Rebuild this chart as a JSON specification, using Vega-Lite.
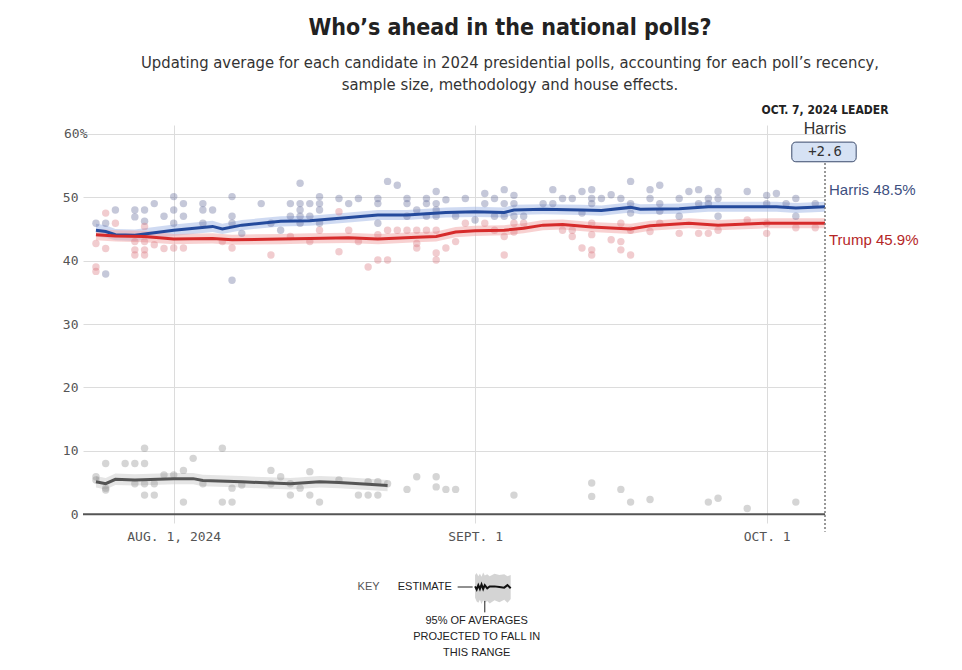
{
 "$schema": "https://vega.github.io/schema/vega-lite/v6.json",
 "width": 742,
 "height": 398,
 "autosize": {"type": "none"},
 "padding": {"left": 83, "top": 125, "right": 137, "bottom": 147},
 "background": "white",
 "config": {
  "view": {"stroke": null},
  "axis": {"domain": false, "ticks": false, "labelFont": "DejaVu Sans Mono", "labelFontSize": 13, "labelColor": "#555555", "gridColor": "#dcdcdc", "gridWidth": 1, "title": null}
 },
 "title": {
  "text": "Who’s ahead in the national polls?",
  "subtitle": ["Updating average for each candidate in 2024 presidential polls, accounting for each poll’s recency,", "sample size, methodology and house effects."],
  "anchor": "middle",
  "frame": "group",
  "dx": 56,
  "offset": 10,
  "font": "Liberation Sans Narrow, DejaVu Sans Condensed, sans-serif",
  "fontSize": 23,
  "fontWeight": "bold",
  "color": "#222222",
  "subtitleFont": "Liberation Sans Narrow, DejaVu Sans Condensed, sans-serif",
  "subtitleFontSize": 16.5,
  "subtitleColor": "#333333",
  "subtitleLineHeight": 22,
  "subtitlePadding": 15
 },
 "datasets": {
  "avg": [
   {"d":"2024-07-24T00:00","c":"Harris","v":44.8,"lo":43.8,"hi":45.8},
   {"d":"2024-07-25T00:00","c":"Harris","v":44.6,"lo":43.6,"hi":45.6},
   {"d":"2024-07-26T00:00","c":"Harris","v":44.1,"lo":43.2,"hi":45.0},
   {"d":"2024-07-28T00:00","c":"Harris","v":44.0,"lo":43.1,"hi":44.9},
   {"d":"2024-07-29T00:00","c":"Harris","v":44.2,"lo":43.3,"hi":45.1},
   {"d":"2024-08-01T00:00","c":"Harris","v":44.8,"lo":43.9,"hi":45.7},
   {"d":"2024-08-05T00:00","c":"Harris","v":45.4,"lo":44.5,"hi":46.3},
   {"d":"2024-08-06T00:00","c":"Harris","v":45.0,"lo":44.2,"hi":45.8},
   {"d":"2024-08-08T00:00","c":"Harris","v":45.6,"lo":44.8,"hi":46.4},
   {"d":"2024-08-12T00:00","c":"Harris","v":46.2,"lo":45.4,"hi":47.0},
   {"d":"2024-08-15T00:00","c":"Harris","v":46.3,"lo":45.5,"hi":47.1},
   {"d":"2024-08-19T00:00","c":"Harris","v":46.8,"lo":46.0,"hi":47.6},
   {"d":"2024-08-22T00:00","c":"Harris","v":47.2,"lo":46.4,"hi":48.0},
   {"d":"2024-08-25T00:00","c":"Harris","v":47.2,"lo":46.4,"hi":48.0},
   {"d":"2024-08-29T00:00","c":"Harris","v":47.6,"lo":46.8,"hi":48.4},
   {"d":"2024-09-01T00:00","c":"Harris","v":47.7,"lo":46.9,"hi":48.5},
   {"d":"2024-09-04T00:00","c":"Harris","v":47.6,"lo":46.8,"hi":48.4},
   {"d":"2024-09-05T00:00","c":"Harris","v":48.0,"lo":47.2,"hi":48.8},
   {"d":"2024-09-08T00:00","c":"Harris","v":48.1,"lo":47.3,"hi":48.9},
   {"d":"2024-09-12T00:00","c":"Harris","v":48.0,"lo":47.2,"hi":48.8},
   {"d":"2024-09-14T00:00","c":"Harris","v":47.9,"lo":47.1,"hi":48.7},
   {"d":"2024-09-17T00:00","c":"Harris","v":48.4,"lo":47.6,"hi":49.2},
   {"d":"2024-09-18T00:00","c":"Harris","v":48.1,"lo":47.3,"hi":48.9},
   {"d":"2024-09-22T00:00","c":"Harris","v":48.2,"lo":47.4,"hi":49.0},
   {"d":"2024-09-25T00:00","c":"Harris","v":48.5,"lo":47.7,"hi":49.3},
   {"d":"2024-09-29T00:00","c":"Harris","v":48.5,"lo":47.7,"hi":49.3},
   {"d":"2024-10-02T00:00","c":"Harris","v":48.5,"lo":47.7,"hi":49.3},
   {"d":"2024-10-04T00:00","c":"Harris","v":48.3,"lo":47.5,"hi":49.1},
   {"d":"2024-10-07T00:00","c":"Harris","v":48.5,"lo":47.7,"hi":49.3},
   {"d":"2024-07-24T00:00","c":"Trump","v":44.1,"lo":43.2,"hi":45.0},
   {"d":"2024-07-26T00:00","c":"Trump","v":43.9,"lo":43.0,"hi":44.8},
   {"d":"2024-07-29T00:00","c":"Trump","v":43.8,"lo":42.9,"hi":44.7},
   {"d":"2024-08-01T00:00","c":"Trump","v":43.4,"lo":42.6,"hi":44.2},
   {"d":"2024-08-05T00:00","c":"Trump","v":43.5,"lo":42.7,"hi":44.3},
   {"d":"2024-08-07T00:00","c":"Trump","v":43.3,"lo":42.5,"hi":44.1},
   {"d":"2024-08-12T00:00","c":"Trump","v":43.4,"lo":42.6,"hi":44.2},
   {"d":"2024-08-15T00:00","c":"Trump","v":43.5,"lo":42.7,"hi":44.3},
   {"d":"2024-08-19T00:00","c":"Trump","v":43.6,"lo":42.8,"hi":44.4},
   {"d":"2024-08-22T00:00","c":"Trump","v":43.4,"lo":42.6,"hi":44.2},
   {"d":"2024-08-26T00:00","c":"Trump","v":43.7,"lo":42.9,"hi":44.5},
   {"d":"2024-08-28T00:00","c":"Trump","v":43.8,"lo":43.0,"hi":44.6},
   {"d":"2024-08-30T00:00","c":"Trump","v":44.5,"lo":43.7,"hi":45.3},
   {"d":"2024-09-01T00:00","c":"Trump","v":44.7,"lo":43.9,"hi":45.5},
   {"d":"2024-09-04T00:00","c":"Trump","v":44.8,"lo":44.0,"hi":45.6},
   {"d":"2024-09-06T00:00","c":"Trump","v":45.1,"lo":44.3,"hi":45.9},
   {"d":"2024-09-08T00:00","c":"Trump","v":45.6,"lo":44.8,"hi":46.4},
   {"d":"2024-09-10T00:00","c":"Trump","v":45.7,"lo":44.9,"hi":46.5},
   {"d":"2024-09-13T00:00","c":"Trump","v":45.3,"lo":44.5,"hi":46.1},
   {"d":"2024-09-17T00:00","c":"Trump","v":45.0,"lo":44.2,"hi":45.8},
   {"d":"2024-09-19T00:00","c":"Trump","v":45.5,"lo":44.7,"hi":46.3},
   {"d":"2024-09-23T00:00","c":"Trump","v":45.9,"lo":45.1,"hi":46.7},
   {"d":"2024-09-26T00:00","c":"Trump","v":45.6,"lo":44.8,"hi":46.4},
   {"d":"2024-10-01T00:00","c":"Trump","v":45.9,"lo":45.1,"hi":46.7},
   {"d":"2024-10-07T00:00","c":"Trump","v":45.9,"lo":45.1,"hi":46.7},
   {"d":"2024-07-24T00:00","c":"Other","v":5.1,"lo":4.2,"hi":6.0},
   {"d":"2024-07-25T00:00","c":"Other","v":4.8,"lo":3.9,"hi":5.7},
   {"d":"2024-07-26T00:00","c":"Other","v":5.5,"lo":4.6,"hi":6.4},
   {"d":"2024-07-28T00:00","c":"Other","v":5.4,"lo":4.5,"hi":6.3},
   {"d":"2024-08-01T00:00","c":"Other","v":5.6,"lo":4.7,"hi":6.5},
   {"d":"2024-08-03T00:00","c":"Other","v":5.6,"lo":4.7,"hi":6.5},
   {"d":"2024-08-04T00:00","c":"Other","v":5.3,"lo":4.4,"hi":6.2},
   {"d":"2024-08-08T00:00","c":"Other","v":5.1,"lo":4.2,"hi":6.0},
   {"d":"2024-08-11T00:00","c":"Other","v":4.9,"lo":4.0,"hi":5.8},
   {"d":"2024-08-13T00:00","c":"Other","v":4.8,"lo":3.9,"hi":5.7},
   {"d":"2024-08-16T00:00","c":"Other","v":5.1,"lo":4.2,"hi":6.0},
   {"d":"2024-08-18T00:00","c":"Other","v":5.0,"lo":4.1,"hi":5.9},
   {"d":"2024-08-21T00:00","c":"Other","v":4.7,"lo":3.8,"hi":5.6},
   {"d":"2024-08-23T00:00","c":"Other","v":4.5,"lo":3.6,"hi":5.4}
  ],
  "polls": [
   {"d":"2024-07-24T00:00","c":"Harris","v":45.9},
   {"d":"2024-07-25T00:00","c":"Harris","v":45.9},
   {"d":"2024-07-25T00:00","c":"Harris","v":37.9},
   {"d":"2024-07-26T00:00","c":"Harris","v":48.0},
   {"d":"2024-07-28T00:00","c":"Harris","v":48.0},
   {"d":"2024-07-28T00:00","c":"Harris","v":46.9},
   {"d":"2024-07-29T00:00","c":"Harris","v":48.0},
   {"d":"2024-07-29T00:00","c":"Harris","v":46.2},
   {"d":"2024-07-30T00:00","c":"Harris","v":49.0},
   {"d":"2024-07-31T00:00","c":"Harris","v":47.0},
   {"d":"2024-08-01T00:00","c":"Harris","v":50.1},
   {"d":"2024-08-01T00:00","c":"Harris","v":48.0},
   {"d":"2024-08-01T00:00","c":"Harris","v":45.9},
   {"d":"2024-08-02T00:00","c":"Harris","v":49.0},
   {"d":"2024-08-02T00:00","c":"Harris","v":47.0},
   {"d":"2024-08-04T00:00","c":"Harris","v":49.0},
   {"d":"2024-08-04T00:00","c":"Harris","v":48.0},
   {"d":"2024-08-04T00:00","c":"Harris","v":45.9},
   {"d":"2024-08-05T00:00","c":"Harris","v":48.0},
   {"d":"2024-08-07T00:00","c":"Harris","v":50.1},
   {"d":"2024-08-07T00:00","c":"Harris","v":47.0},
   {"d":"2024-08-07T00:00","c":"Harris","v":45.9},
   {"d":"2024-08-07T00:00","c":"Harris","v":36.9},
   {"d":"2024-08-08T00:00","c":"Harris","v":44.3},
   {"d":"2024-08-10T00:00","c":"Harris","v":49.0},
   {"d":"2024-08-11T00:00","c":"Harris","v":45.9},
   {"d":"2024-08-12T00:00","c":"Harris","v":44.8},
   {"d":"2024-08-13T00:00","c":"Harris","v":49.0},
   {"d":"2024-08-13T00:00","c":"Harris","v":47.0},
   {"d":"2024-08-14T00:00","c":"Harris","v":52.2},
   {"d":"2024-08-14T00:00","c":"Harris","v":49.0},
   {"d":"2024-08-14T00:00","c":"Harris","v":48.0},
   {"d":"2024-08-14T00:00","c":"Harris","v":47.0},
   {"d":"2024-08-14T00:00","c":"Harris","v":45.9},
   {"d":"2024-08-15T00:00","c":"Harris","v":49.0},
   {"d":"2024-08-15T00:00","c":"Harris","v":47.0},
   {"d":"2024-08-16T00:00","c":"Harris","v":50.1},
   {"d":"2024-08-16T00:00","c":"Harris","v":49.0},
   {"d":"2024-08-16T00:00","c":"Harris","v":48.0},
   {"d":"2024-08-16T00:00","c":"Harris","v":45.9},
   {"d":"2024-08-18T00:00","c":"Harris","v":49.8},
   {"d":"2024-08-19T00:00","c":"Harris","v":49.0},
   {"d":"2024-08-20T00:00","c":"Harris","v":49.8},
   {"d":"2024-08-22T00:00","c":"Harris","v":49.8},
   {"d":"2024-08-22T00:00","c":"Harris","v":49.0},
   {"d":"2024-08-22T00:00","c":"Harris","v":45.9},
   {"d":"2024-08-23T00:00","c":"Harris","v":52.5},
   {"d":"2024-08-24T00:00","c":"Harris","v":51.9},
   {"d":"2024-08-25T00:00","c":"Harris","v":49.8},
   {"d":"2024-08-25T00:00","c":"Harris","v":49.0},
   {"d":"2024-08-25T00:00","c":"Harris","v":47.0},
   {"d":"2024-08-26T00:00","c":"Harris","v":48.0},
   {"d":"2024-08-27T00:00","c":"Harris","v":49.8},
   {"d":"2024-08-27T00:00","c":"Harris","v":49.0},
   {"d":"2024-08-27T00:00","c":"Harris","v":47.0},
   {"d":"2024-08-28T00:00","c":"Harris","v":50.9},
   {"d":"2024-08-28T00:00","c":"Harris","v":49.0},
   {"d":"2024-08-28T00:00","c":"Harris","v":48.0},
   {"d":"2024-08-28T00:00","c":"Harris","v":47.0},
   {"d":"2024-08-29T00:00","c":"Harris","v":49.6},
   {"d":"2024-08-30T00:00","c":"Harris","v":47.0},
   {"d":"2024-08-31T00:00","c":"Harris","v":49.8},
   {"d":"2024-09-01T00:00","c":"Harris","v":46.4},
   {"d":"2024-09-02T00:00","c":"Harris","v":50.6},
   {"d":"2024-09-02T00:00","c":"Harris","v":49.0},
   {"d":"2024-09-03T00:00","c":"Harris","v":49.8},
   {"d":"2024-09-03T00:00","c":"Harris","v":47.0},
   {"d":"2024-09-04T00:00","c":"Harris","v":51.2},
   {"d":"2024-09-04T00:00","c":"Harris","v":49.0},
   {"d":"2024-09-04T00:00","c":"Harris","v":47.0},
   {"d":"2024-09-05T00:00","c":"Harris","v":50.3},
   {"d":"2024-09-05T00:00","c":"Harris","v":49.0},
   {"d":"2024-09-05T00:00","c":"Harris","v":47.0},
   {"d":"2024-09-06T00:00","c":"Harris","v":47.0},
   {"d":"2024-09-08T00:00","c":"Harris","v":49.0},
   {"d":"2024-09-09T00:00","c":"Harris","v":51.2},
   {"d":"2024-09-09T00:00","c":"Harris","v":49.0},
   {"d":"2024-09-10T00:00","c":"Harris","v":49.8},
   {"d":"2024-09-11T00:00","c":"Harris","v":49.8},
   {"d":"2024-09-12T00:00","c":"Harris","v":50.9},
   {"d":"2024-09-12T00:00","c":"Harris","v":47.5},
   {"d":"2024-09-13T00:00","c":"Harris","v":51.2},
   {"d":"2024-09-13T00:00","c":"Harris","v":49.8},
   {"d":"2024-09-13T00:00","c":"Harris","v":49.0},
   {"d":"2024-09-14T00:00","c":"Harris","v":49.8},
   {"d":"2024-09-15T00:00","c":"Harris","v":50.4},
   {"d":"2024-09-16T00:00","c":"Harris","v":49.8},
   {"d":"2024-09-17T00:00","c":"Harris","v":52.5},
   {"d":"2024-09-17T00:00","c":"Harris","v":49.0},
   {"d":"2024-09-17T00:00","c":"Harris","v":47.5},
   {"d":"2024-09-19T00:00","c":"Harris","v":51.2},
   {"d":"2024-09-19T00:00","c":"Harris","v":49.8},
   {"d":"2024-09-20T00:00","c":"Harris","v":51.9},
   {"d":"2024-09-20T00:00","c":"Harris","v":49.0},
   {"d":"2024-09-20T00:00","c":"Harris","v":47.8},
   {"d":"2024-09-22T00:00","c":"Harris","v":49.8},
   {"d":"2024-09-22T00:00","c":"Harris","v":47.0},
   {"d":"2024-09-23T00:00","c":"Harris","v":50.9},
   {"d":"2024-09-24T00:00","c":"Harris","v":51.2},
   {"d":"2024-09-24T00:00","c":"Harris","v":49.0},
   {"d":"2024-09-25T00:00","c":"Harris","v":49.8},
   {"d":"2024-09-25T00:00","c":"Harris","v":49.0},
   {"d":"2024-09-26T00:00","c":"Harris","v":50.9},
   {"d":"2024-09-26T00:00","c":"Harris","v":49.8},
   {"d":"2024-09-26T00:00","c":"Harris","v":47.0},
   {"d":"2024-09-29T00:00","c":"Harris","v":50.9},
   {"d":"2024-10-01T00:00","c":"Harris","v":50.3},
   {"d":"2024-10-01T00:00","c":"Harris","v":49.0},
   {"d":"2024-10-02T00:00","c":"Harris","v":50.6},
   {"d":"2024-10-03T00:00","c":"Harris","v":49.0},
   {"d":"2024-10-04T00:00","c":"Harris","v":49.8},
   {"d":"2024-10-04T00:00","c":"Harris","v":47.0},
   {"d":"2024-10-06T00:00","c":"Harris","v":49.0},
   {"d":"2024-07-24T00:00","c":"Trump","v":42.7},
   {"d":"2024-07-24T00:00","c":"Trump","v":39.0},
   {"d":"2024-07-24T00:00","c":"Trump","v":38.3},
   {"d":"2024-07-25T00:00","c":"Trump","v":47.5},
   {"d":"2024-07-25T00:00","c":"Trump","v":41.9},
   {"d":"2024-07-26T00:00","c":"Trump","v":45.9},
   {"d":"2024-07-28T00:00","c":"Trump","v":43.0},
   {"d":"2024-07-28T00:00","c":"Trump","v":41.7},
   {"d":"2024-07-28T00:00","c":"Trump","v":40.9},
   {"d":"2024-07-29T00:00","c":"Trump","v":45.4},
   {"d":"2024-07-29T00:00","c":"Trump","v":43.0},
   {"d":"2024-07-29T00:00","c":"Trump","v":41.7},
   {"d":"2024-07-29T00:00","c":"Trump","v":40.9},
   {"d":"2024-07-30T00:00","c":"Trump","v":42.5},
   {"d":"2024-07-31T00:00","c":"Trump","v":41.9},
   {"d":"2024-08-01T00:00","c":"Trump","v":42.0},
   {"d":"2024-08-02T00:00","c":"Trump","v":42.0},
   {"d":"2024-08-06T00:00","c":"Trump","v":43.0},
   {"d":"2024-08-07T00:00","c":"Trump","v":42.0},
   {"d":"2024-08-11T00:00","c":"Trump","v":40.9},
   {"d":"2024-08-13T00:00","c":"Trump","v":43.8},
   {"d":"2024-08-15T00:00","c":"Trump","v":43.0},
   {"d":"2024-08-16T00:00","c":"Trump","v":44.8},
   {"d":"2024-08-18T00:00","c":"Trump","v":47.7},
   {"d":"2024-08-18T00:00","c":"Trump","v":41.4},
   {"d":"2024-08-19T00:00","c":"Trump","v":44.8},
   {"d":"2024-08-20T00:00","c":"Trump","v":43.0},
   {"d":"2024-08-21T00:00","c":"Trump","v":39.0},
   {"d":"2024-08-22T00:00","c":"Trump","v":44.1},
   {"d":"2024-08-22T00:00","c":"Trump","v":40.1},
   {"d":"2024-08-23T00:00","c":"Trump","v":44.8},
   {"d":"2024-08-23T00:00","c":"Trump","v":40.1},
   {"d":"2024-08-24T00:00","c":"Trump","v":44.8},
   {"d":"2024-08-25T00:00","c":"Trump","v":44.8},
   {"d":"2024-08-26T00:00","c":"Trump","v":44.8},
   {"d":"2024-08-26T00:00","c":"Trump","v":42.7},
   {"d":"2024-08-26T00:00","c":"Trump","v":42.0},
   {"d":"2024-08-27T00:00","c":"Trump","v":44.8},
   {"d":"2024-08-28T00:00","c":"Trump","v":44.8},
   {"d":"2024-08-28T00:00","c":"Trump","v":41.2},
   {"d":"2024-08-28T00:00","c":"Trump","v":40.1},
   {"d":"2024-08-29T00:00","c":"Trump","v":42.0},
   {"d":"2024-08-30T00:00","c":"Trump","v":43.0},
   {"d":"2024-08-31T00:00","c":"Trump","v":45.9},
   {"d":"2024-09-02T00:00","c":"Trump","v":45.9},
   {"d":"2024-09-03T00:00","c":"Trump","v":44.8},
   {"d":"2024-09-04T00:00","c":"Trump","v":43.8},
   {"d":"2024-09-04T00:00","c":"Trump","v":40.9},
   {"d":"2024-09-05T00:00","c":"Trump","v":45.9},
   {"d":"2024-09-05T00:00","c":"Trump","v":44.5},
   {"d":"2024-09-06T00:00","c":"Trump","v":45.9},
   {"d":"2024-09-10T00:00","c":"Trump","v":44.8},
   {"d":"2024-09-11T00:00","c":"Trump","v":44.8},
   {"d":"2024-09-11T00:00","c":"Trump","v":43.8},
   {"d":"2024-09-12T00:00","c":"Trump","v":42.0},
   {"d":"2024-09-13T00:00","c":"Trump","v":45.9},
   {"d":"2024-09-13T00:00","c":"Trump","v":44.1},
   {"d":"2024-09-13T00:00","c":"Trump","v":41.7},
   {"d":"2024-09-13T00:00","c":"Trump","v":40.9},
   {"d":"2024-09-15T00:00","c":"Trump","v":43.3},
   {"d":"2024-09-16T00:00","c":"Trump","v":45.9},
   {"d":"2024-09-16T00:00","c":"Trump","v":43.0},
   {"d":"2024-09-16T00:00","c":"Trump","v":41.7},
   {"d":"2024-09-17T00:00","c":"Trump","v":44.8},
   {"d":"2024-09-17T00:00","c":"Trump","v":40.9},
   {"d":"2024-09-19T00:00","c":"Trump","v":44.6},
   {"d":"2024-09-20T00:00","c":"Trump","v":45.9},
   {"d":"2024-09-22T00:00","c":"Trump","v":44.3},
   {"d":"2024-09-24T00:00","c":"Trump","v":44.3},
   {"d":"2024-09-25T00:00","c":"Trump","v":44.3},
   {"d":"2024-09-26T00:00","c":"Trump","v":44.8},
   {"d":"2024-09-29T00:00","c":"Trump","v":46.4},
   {"d":"2024-10-01T00:00","c":"Trump","v":45.9},
   {"d":"2024-10-01T00:00","c":"Trump","v":44.3},
   {"d":"2024-10-04T00:00","c":"Trump","v":45.2},
   {"d":"2024-10-06T00:00","c":"Trump","v":45.2},
   {"d":"2024-07-24T00:00","c":"Other","v":5.9},
   {"d":"2024-07-24T00:00","c":"Other","v":5.4},
   {"d":"2024-07-25T00:00","c":"Other","v":8.0},
   {"d":"2024-07-25T00:00","c":"Other","v":4.1},
   {"d":"2024-07-25T00:00","c":"Other","v":3.8},
   {"d":"2024-07-27T00:00","c":"Other","v":8.0},
   {"d":"2024-07-28T00:00","c":"Other","v":8.0},
   {"d":"2024-07-28T00:00","c":"Other","v":4.8},
   {"d":"2024-07-29T00:00","c":"Other","v":8.0},
   {"d":"2024-07-29T00:00","c":"Other","v":10.4},
   {"d":"2024-07-29T00:00","c":"Other","v":4.8},
   {"d":"2024-07-29T00:00","c":"Other","v":3.0},
   {"d":"2024-07-30T00:00","c":"Other","v":4.8},
   {"d":"2024-07-30T00:00","c":"Other","v":3.0},
   {"d":"2024-07-31T00:00","c":"Other","v":6.2},
   {"d":"2024-08-01T00:00","c":"Other","v":6.2},
   {"d":"2024-08-02T00:00","c":"Other","v":6.9},
   {"d":"2024-08-02T00:00","c":"Other","v":1.9},
   {"d":"2024-08-03T00:00","c":"Other","v":8.8},
   {"d":"2024-08-04T00:00","c":"Other","v":4.8},
   {"d":"2024-08-06T00:00","c":"Other","v":10.4},
   {"d":"2024-08-06T00:00","c":"Other","v":1.9},
   {"d":"2024-08-07T00:00","c":"Other","v":1.9},
   {"d":"2024-08-07T00:00","c":"Other","v":4.1},
   {"d":"2024-08-08T00:00","c":"Other","v":4.6},
   {"d":"2024-08-11T00:00","c":"Other","v":6.9},
   {"d":"2024-08-11T00:00","c":"Other","v":4.8},
   {"d":"2024-08-12T00:00","c":"Other","v":5.9},
   {"d":"2024-08-13T00:00","c":"Other","v":4.8},
   {"d":"2024-08-13T00:00","c":"Other","v":3.0},
   {"d":"2024-08-14T00:00","c":"Other","v":4.1},
   {"d":"2024-08-15T00:00","c":"Other","v":6.7},
   {"d":"2024-08-15T00:00","c":"Other","v":3.0},
   {"d":"2024-08-16T00:00","c":"Other","v":1.9},
   {"d":"2024-08-18T00:00","c":"Other","v":5.4},
   {"d":"2024-08-20T00:00","c":"Other","v":3.0},
   {"d":"2024-08-21T00:00","c":"Other","v":3.0},
   {"d":"2024-08-21T00:00","c":"Other","v":5.1},
   {"d":"2024-08-22T00:00","c":"Other","v":3.0},
   {"d":"2024-08-22T00:00","c":"Other","v":5.1},
   {"d":"2024-08-23T00:00","c":"Other","v":4.8},
   {"d":"2024-08-25T00:00","c":"Other","v":3.9},
   {"d":"2024-08-26T00:00","c":"Other","v":5.9},
   {"d":"2024-08-28T00:00","c":"Other","v":5.9},
   {"d":"2024-08-28T00:00","c":"Other","v":4.3},
   {"d":"2024-08-29T00:00","c":"Other","v":3.9},
   {"d":"2024-08-30T00:00","c":"Other","v":3.9},
   {"d":"2024-09-05T00:00","c":"Other","v":3.0},
   {"d":"2024-09-13T00:00","c":"Other","v":4.9},
   {"d":"2024-09-13T00:00","c":"Other","v":2.8},
   {"d":"2024-09-16T00:00","c":"Other","v":3.9},
   {"d":"2024-09-17T00:00","c":"Other","v":1.9},
   {"d":"2024-09-19T00:00","c":"Other","v":2.3},
   {"d":"2024-09-25T00:00","c":"Other","v":1.9},
   {"d":"2024-09-26T00:00","c":"Other","v":2.5},
   {"d":"2024-09-29T00:00","c":"Other","v":0.9},
   {"d":"2024-10-04T00:00","c":"Other","v":1.9}
  ],
  "key": [
   {"t":"2024-09-01T00:00","v":-11.4,"lo":-13.2,"hi":-9.6},
   {"t":"2024-09-01T04:00","v":-11.9,"lo":-13.8,"hi":-9.3},
   {"t":"2024-09-01T08:00","v":-11.2,"lo":-14.0,"hi":-9.8},
   {"t":"2024-09-01T12:00","v":-11.8,"lo":-13.5,"hi":-9.4},
   {"t":"2024-09-01T16:00","v":-11.1,"lo":-14.2,"hi":-9.9},
   {"t":"2024-09-01T20:00","v":-11.8,"lo":-13.6,"hi":-9.2},
   {"t":"2024-09-02T00:00","v":-11.2,"lo":-14.0,"hi":-9.7},
   {"t":"2024-09-02T06:00","v":-11.7,"lo":-13.7,"hi":-9.5},
   {"t":"2024-09-02T12:00","v":-11.4,"lo":-14.1,"hi":-9.8},
   {"t":"2024-09-03T00:00","v":-11.4,"lo":-13.6,"hi":-9.4},
   {"t":"2024-09-03T12:00","v":-11.5,"lo":-13.9,"hi":-9.6},
   {"t":"2024-09-04T00:00","v":-11.6,"lo":-13.5,"hi":-9.5},
   {"t":"2024-09-04T08:00","v":-11.2,"lo":-14.0,"hi":-9.8},
   {"t":"2024-09-04T16:00","v":-11.7,"lo":-13.4,"hi":-9.6}
  ]
 },
 "resolve": {"scale": {"color": "independent"}},
 "layer": [
  {
   "data": {"name": "avg"},
   "mark": {"type": "area", "opacity": 0.55},
   "encoding": {
    "x": {"field": "d", "type": "temporal", "title": null,
     "scale": {"domain": [{"year": 2024, "month": 7, "date": 22, "hours": 16}, {"year": 2024, "month": 10, "date": 7}]},
     "axis": {"values": [{"year": 2024, "month": 8, "date": 1}, {"year": 2024, "month": 9, "date": 1}, {"year": 2024, "month": 10, "date": 1}],
      "labelExpr": "month(datum.value) == 7 ? 'AUG. 1, 2024' : (month(datum.value) == 8 ? 'SEPT. 1' : 'OCT. 1')",
      "grid": true, "labelPadding": 7, "labelFlush": false}},
    "y": {"field": "lo", "type": "quantitative", "title": null,
     "scale": {"domain": [-1.4, 61.4], "nice": false, "zero": false},
     "axis": {"values": [0, 10, 20, 30, 40, 50, 60], "grid": true,
      "labelExpr": "datum.value == 60 ? '60%' : datum.label",
      "labelPadding": {"condition": {"test": "datum.value == 60", "value": -4}, "value": 5}}},
    "y2": {"field": "hi"},
    "color": {"field": "c", "type": "nominal", "legend": null,
     "scale": {"domain": ["Harris", "Trump", "Other"], "range": ["#a7bbe8", "#f3abab", "#cfcfcf"]}}
   }
  },
  {
   "data": {"name": "polls"},
   "mark": {"type": "point", "filled": true, "size": 55, "opacity": 0.36},
   "encoding": {
    "x": {"field": "d", "type": "temporal", "title": null},
    "y": {"field": "v", "type": "quantitative", "title": null},
    "color": {"field": "c", "type": "nominal", "legend": null,
     "scale": {"domain": ["Harris", "Trump", "Other"], "range": ["#5f6796", "#d9737a", "#8a8a8a"]}}
   }
  },
  {
   "data": {"name": "avg"},
   "mark": {"type": "line", "strokeWidth": 3},
   "encoding": {
    "x": {"field": "d", "type": "temporal", "title": null},
    "y": {"field": "v", "type": "quantitative", "title": null},
    "color": {"field": "c", "type": "nominal", "legend": null,
     "scale": {"domain": ["Harris", "Trump", "Other"], "range": ["#244a9c", "#d62b2b", "#555555"]}}
   }
  },
  {
   "data": {"values": [{}]},
   "mark": {"type": "rule", "color": "#555555", "strokeWidth": 2},
   "encoding": {"y": {"datum": 0, "type": "quantitative"}}
  },
  {
   "data": {"values": [{}]},
   "mark": {"type": "rule", "color": "#777777", "strokeWidth": 1.5, "strokeDash": [2, 2]},
   "encoding": {
    "x": {"datum": {"year": 2024, "month": 10, "date": 7}, "type": "temporal"},
    "y": {"datum": 55.4, "type": "quantitative"},
    "y2": {"datum": -2.8}
   }
  },
  {
   "data": {"values": [{}]},
   "mark": {"type": "rect", "fill": "#d6e2f4", "stroke": "#3b4a6b", "strokeWidth": 1, "cornerRadius": 4},
   "encoding": {
    "x": {"datum": {"year": 2024, "month": 10, "date": 3, "hours": 14}, "type": "temporal"},
    "x2": {"datum": {"year": 2024, "month": 10, "date": 10, "hours": 5}},
    "y": {"datum": 55.6, "type": "quantitative"},
    "y2": {"datum": 58.7}
   }
  },
  {
   "data": {"values": [{}]},
   "mark": {"type": "text", "text": "+2.6", "font": "DejaVu Sans Mono", "fontSize": 14, "color": "#333333", "align": "center", "baseline": "middle"},
   "encoding": {
    "x": {"datum": {"year": 2024, "month": 10, "date": 7}, "type": "temporal"},
    "y": {"datum": 57.15, "type": "quantitative"}
   }
  },
  {
   "data": {"values": [{}]},
   "mark": {"type": "text", "text": "OCT. 7, 2024 LEADER", "font": "Liberation Sans Narrow, DejaVu Sans Condensed, sans-serif", "fontWeight": "bold", "fontSize": 12, "color": "#222222", "align": "center", "baseline": "middle"},
   "encoding": {
    "x": {"datum": {"year": 2024, "month": 10, "date": 7}, "type": "temporal"},
    "y": {"datum": 63.8, "type": "quantitative"}
   }
  },
  {
   "data": {"values": [{}]},
   "mark": {"type": "text", "text": "Harris", "font": "Liberation Sans", "fontSize": 16, "color": "#333333", "align": "center", "baseline": "middle"},
   "encoding": {
    "x": {"datum": {"year": 2024, "month": 10, "date": 7}, "type": "temporal"},
    "y": {"datum": 60.8, "type": "quantitative"}
   }
  },
  {
   "data": {"values": [{}]},
   "mark": {"type": "text", "text": "Harris 48.5%", "font": "Liberation Sans", "fontSize": 15, "color": "#3d4f80", "align": "left", "baseline": "middle", "dx": 4},
   "encoding": {
    "x": {"datum": {"year": 2024, "month": 10, "date": 7}, "type": "temporal"},
    "y": {"datum": 51.2, "type": "quantitative"}
   }
  },
  {
   "data": {"values": [{}]},
   "mark": {"type": "text", "text": "Trump 45.9%", "font": "Liberation Sans", "fontSize": 15, "color": "#b52626", "align": "left", "baseline": "middle", "dx": 4},
   "encoding": {
    "x": {"datum": {"year": 2024, "month": 10, "date": 7}, "type": "temporal"},
    "y": {"datum": 43.3, "type": "quantitative"}
   }
  },
  {
   "data": {"name": "key"},
   "mark": {"type": "area", "color": "#cccccc", "opacity": 0.85},
   "encoding": {
    "x": {"field": "t", "type": "temporal", "title": null},
    "y": {"field": "lo", "type": "quantitative", "title": null},
    "y2": {"field": "hi"}
   }
  },
  {
   "data": {"name": "key"},
   "mark": {"type": "line", "color": "#111111", "strokeWidth": 2},
   "encoding": {
    "x": {"field": "t", "type": "temporal", "title": null},
    "y": {"field": "v", "type": "quantitative", "title": null}
   }
  },
  {
   "data": {"values": [{}]},
   "mark": {"type": "rule", "color": "#222222", "strokeWidth": 1},
   "encoding": {
    "x": {"datum": {"year": 2024, "month": 8, "date": 30, "hours": 5}, "type": "temporal"},
    "x2": {"datum": {"year": 2024, "month": 8, "date": 31, "hours": 18}},
    "y": {"datum": -11.5, "type": "quantitative"}
   }
  },
  {
   "data": {"values": [{}]},
   "mark": {"type": "rule", "color": "#222222", "strokeWidth": 1},
   "encoding": {
    "x": {"datum": {"year": 2024, "month": 9, "date": 2}, "type": "temporal"},
    "y": {"datum": -13.7, "type": "quantitative"},
    "y2": {"datum": -15.5}
   }
  },
  {
   "data": {"values": [{}]},
   "mark": {"type": "text", "text": "KEY", "font": "Liberation Sans", "fontSize": 11, "color": "#555555", "align": "center", "baseline": "middle"},
   "encoding": {
    "x": {"datum": {"year": 2024, "month": 8, "date": 21, "hours": 1}, "type": "temporal"},
    "y": {"datum": -11.5, "type": "quantitative"}
   }
  },
  {
   "data": {"values": [{}]},
   "mark": {"type": "text", "text": "ESTIMATE", "font": "Liberation Sans", "fontSize": 11, "color": "#222222", "align": "left", "baseline": "middle"},
   "encoding": {
    "x": {"datum": {"year": 2024, "month": 8, "date": 24, "hours": 1}, "type": "temporal"},
    "y": {"datum": -11.5, "type": "quantitative"}
   }
  },
  {
   "data": {"values": [{}]},
   "mark": {"type": "text", "text": ["95% OF AVERAGES", "PROJECTED TO FALL IN", "THIS RANGE"], "font": "Liberation Sans", "fontSize": 11, "lineHeight": 16, "color": "#222222", "align": "center", "baseline": "top"},
   "encoding": {
    "x": {"datum": {"year": 2024, "month": 9, "date": 1, "hours": 4}, "type": "temporal"},
    "y": {"datum": -15.85, "type": "quantitative"}
   }
  }
 ]
}
